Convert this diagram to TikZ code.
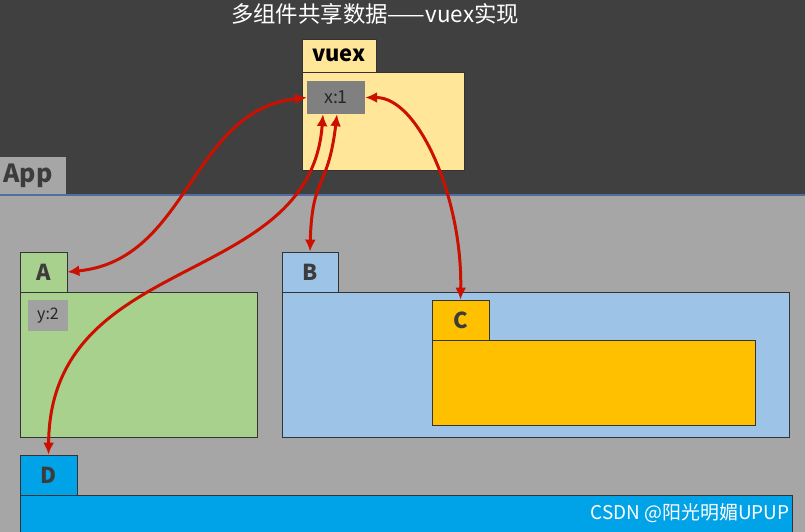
\documentclass[tikz,border=0pt]{standalone}
\usepackage{fontspec}
\newfontfamily\cjk{Noto Sans CJK SC}
\usepackage{tikz}
\usetikzlibrary{arrows.meta,shapes}
\definecolor{darkbg}{RGB}{64,64,64}
\definecolor{appgray}{RGB}{166,166,166}
\definecolor{sepblue}{RGB}{80,110,160}
\definecolor{vuexyellow}{RGB}{255,230,153}
\definecolor{agreen}{RGB}{169,209,142}
\definecolor{bblue}{RGB}{157,195,230}
\definecolor{corange}{RGB}{255,192,0}
\definecolor{dblue}{RGB}{0,162,232}
\definecolor{linkred}{RGB}{204,16,0}
\definecolor{labelgray}{RGB}{60,60,60}

\begin{document}
\begin{tikzpicture}[
  tab/.style={draw=black!80,line width=0.8bp,inner sep=0pt,text=labelgray,
    font=\cjk\bfseries\fontsize{22}{24}\selectfont},
  body/.style={draw=black!80,line width=0.8bp,inner sep=0pt},
  var/.style={inner sep=0pt,text=black!85,font=\cjk\fontsize{18}{20}\selectfont},
  link/.style={<->,>={Latex[length=12bp,width=11bp]},draw=linkred,line width=3bp}]
\useasboundingbox (0,0) rectangle (805bp,-532bp);
\clip (0,0) rectangle (805bp,-532bp);

% backgrounds
\fill[darkbg] (0,0) rectangle (805bp,-195bp);
\fill[appgray] (0,-195bp) rectangle (805bp,-532bp);
\draw[sepblue,line width=1.5bp] (0,-195bp) -- (805bp,-195bp);

\node (title) at (375bp,-14bp)[text=white!92,font=\cjk\fontsize{22.5}{24}\selectfont] {多组件共享数据——vuex实现};
\node (Apptab) at (33bp,-175.5bp)[draw=none,fill=appgray,minimum width=66bp,minimum height=37bp] {};
\node (App) at (28bp,-176bp)[text=labelgray,font=\cjk\bfseries\fontsize{25}{26}\selectfont] {App};

% vuex
\node (vuexbody) at (383bp,-121bp)[body,fill=vuexyellow,minimum width=162bp,minimum height=98bp] {};
\node (vuex) at (339bp,-55.5bp)[tab,fill=vuexyellow,text=black,minimum width=74bp,minimum height=33bp] {vuex};
\node (x1) at (336bp,-97.5bp)[var,fill=black!50,minimum width=58bp,minimum height=33bp] {x:1};

% components
\node (Abody) at (138.5bp,-364.5bp)[body,fill=agreen,minimum width=237bp,minimum height=145bp] {};
\node (A) at (43.5bp,-272bp)[tab,fill=agreen,minimum width=47bp,minimum height=40bp] {A};
\node (y2) at (48bp,-315.5bp)[var,fill=black!37,minimum width=40bp,minimum height=31bp,font=\cjk\fontsize{16}{18}\selectfont] {y:2};
\node (Bbody) at (535.5bp,-364.5bp)[body,fill=bblue,minimum width=507bp,minimum height=145bp] {};
\node (B) at (310bp,-272bp)[tab,fill=bblue,minimum width=56bp,minimum height=40bp] {B};
\node (Cbody) at (593.5bp,-382.5bp)[body,fill=corange,minimum width=323bp,minimum height=85bp] {};
\node (C) at (460.5bp,-320bp)[tab,fill=corange,minimum width=57bp,minimum height=40bp] {C};
\node (Dbody) at (406bp,-517.5bp)[body,fill=dblue,minimum width=772bp,minimum height=45bp] {};
\node (D) at (48.5bp,-475bp)[tab,fill=dblue,minimum width=57bp,minimum height=40bp] {D};

\node (mark) at (690bp,-513bp)[text=white!85,font=\cjk\fontsize{19}{20}\selectfont] {CSDN @阳光明媚UPUP};

% links to the store
\draw[link] (A.east) .. controls +(122bp,12bp) and +(-117bp,-13bp) .. (x1.west);
\draw[link] (B.north) .. controls +(2bp,77bp) and +(-9bp,-76bp) .. ([xshift=1bp]x1.south);
\draw[link] (D.north) .. controls +(1.5bp,205bp) and +(-13bp,-176bp) .. ([xshift=-13bp]x1.south);
\draw[link] (x1.east) .. controls +(54bp,0bp) and +(2bp,100bp) .. (C.north);
\end{tikzpicture}
\end{document}
